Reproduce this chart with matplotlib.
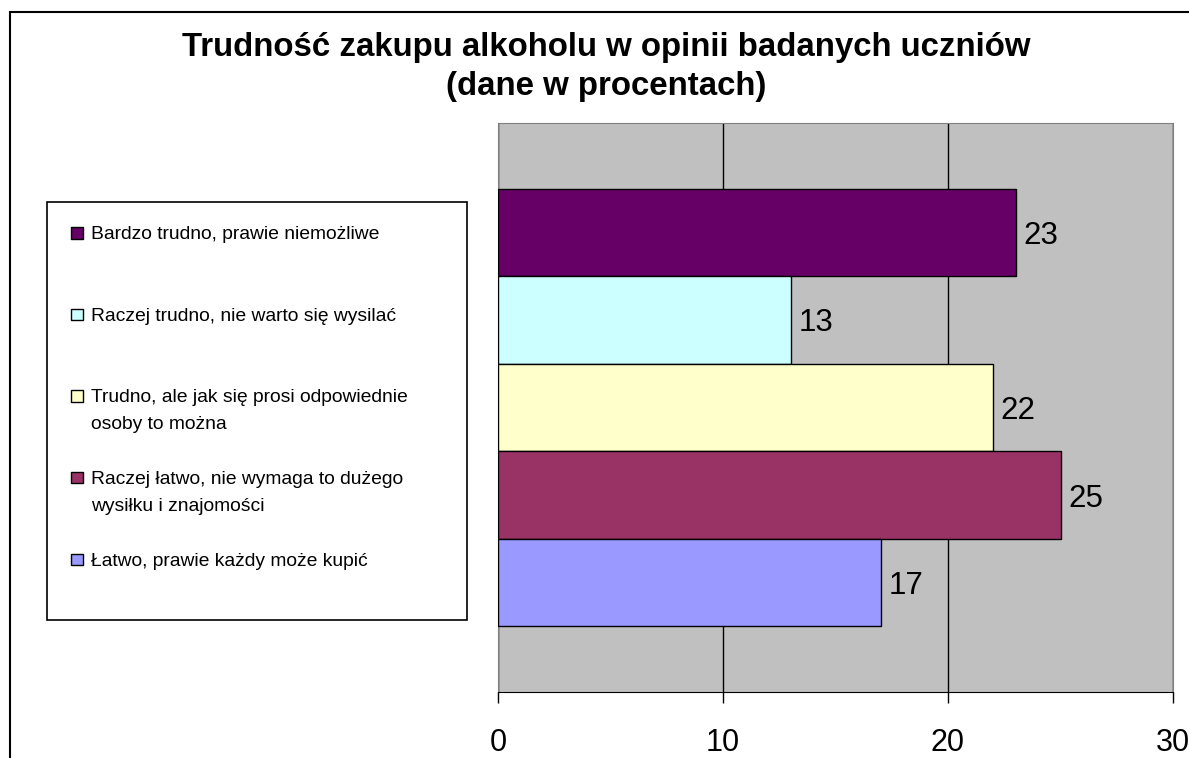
import numpy as np
import matplotlib.pyplot as plt
from matplotlib.patches import Rectangle

plt.rcParams['font.family'] = ['Liberation Sans', 'DejaVu Sans']

# Data (series order top to bottom)
labels = ['Bardzo trudno, prawie niemożliwe',
          'Raczej trudno, nie warto się wysilać',
          'Trudno, ale jak się prosi odpowiednie\nosoby to można',
          'Raczej łatwo, nie wymaga to dużego\nwysiłku i znajomości',
          'Łatwo, prawie każdy może kupić']
values = [23, 13, 22, 25, 17]
colors = ['#660066', '#CCFFFF', '#FFFFCC', '#993366', '#9999FF']
x_ticks = [0, 10, 20, 30]
title = 'Trudność zakupu alkoholu w opinii badanych uczniów\n(dane w procentach)'

W, H = 1189, 758
fig = plt.figure(figsize=(W / 100, H / 100), dpi=100)

# outer chart border (right/bottom edges fall outside the image)
fig.add_artist(Rectangle((10 / W, -0.1), 1.2, 1.1 - 12 / H, transform=fig.transFigure,
                         fill=False, edgecolor='black', lw=1.5))

fig.text(606 / W, 1 - 67 / H, title, ha='center', va='center', fontsize=23.8,
         fontweight='bold', linespacing=1.37)

# plot area
ax = fig.add_axes([498 / W, 1 - 692 / H, 675 / W, 569 / H])
ax.set_facecolor('#C0C0C0')
ypos = np.arange(len(values))
ax.barh(ypos, values, height=1.0, color=colors, edgecolor='black', lw=1, zorder=3)
for y, v in zip(ypos, values):
    ax.text(v + 0.35, y, str(v), va='center_baseline', ha='left', fontsize=22.5, zorder=4)

ax.set_xlim(0, 30)
ax.set_ylim(len(values) - 0.5 + 0.75, -0.5 - 0.75)
ax.set_xticks(x_ticks)
ax.set_yticks([])
ax.grid(axis='x', color='black', lw=1, zorder=1)
ax.tick_params(axis='x', direction='out', length=8, width=1, labelsize=22, pad=18)
for s in ['top', 'right', 'left']:
    ax.spines[s].set_color('#808080')
ax.spines['bottom'].set_color('black')

# legend box drawn by hand so the marker sits on the first line of each label
fig.add_artist(Rectangle((47 / W, 1 - 620 / H), 420 / W, 418 / H, transform=fig.transFigure,
                         fill=False, edgecolor='black', lw=1.2))
step = (559 - 232.5) / (len(labels) - 1)
for i, (lab, c) in enumerate(zip(labels, colors)):
    yc = 232.5 + i * step
    fig.add_artist(Rectangle((71 / W, 1 - (yc + 6) / H), 11.5 / W, 11.5 / H,
                             transform=fig.transFigure, facecolor=c, edgecolor='black', lw=1))
    first, _, rest = lab.partition('\n')
    fig.text(91 / W, 1 - (yc + 6.5) / H, first, ha='left', va='baseline', fontsize=13.85)
    if rest:
        fig.text(91 / W, 1 - (yc + 33.5) / H, rest, ha='left', va='baseline', fontsize=13.85)

fig.savefig('out.png', dpi=100)
